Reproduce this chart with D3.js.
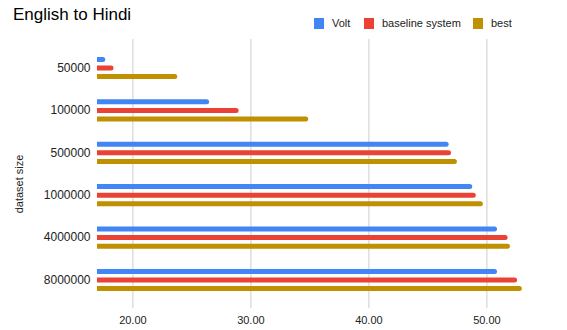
<!DOCTYPE html>
<html>
<head>
<meta charset="utf-8">
<script src="https://cdn.jsdelivr.net/npm/d3@7"></script>
<style>
  body { margin: 0; background: #fff; }
  svg { display: block; font-family: "Liberation Sans", Arial, sans-serif; }
</style>
</head>
<body>
<svg id="chart" width="567" height="330"></svg>
<script>
// Dataset sizes and scores per system
const categories = ["50000", "100000", "500000", "1000000", "4000000", "8000000"];
const seriesNames = ["Volt", "baseline system", "best"];
const voltValues = [17.7, 26.5, 46.8, 48.8, 50.9, 50.9];
const baselineValues = [18.4, 29.0, 47.0, 49.1, 51.8, 52.6];
const bestValues = [23.8, 34.9, 47.5, 49.7, 52.0, 53.0];
const xTicks = [20, 30, 40, 50];
const colors = ["#4285F4", "#EA4335", "#BF9000"];

const seriesValues = [voltValues, baselineValues, bestValues];
const fontFamily = "'Liberation Sans', Arial, sans-serif";

const svg = d3.select("#chart");

const x = d3.scaleLinear().domain([17, 55]).range([97, 545.4]);
const y = d3.scaleBand().domain(categories).range([46.8, 301.2]).padding(0);
const inner = d3.scaleBand().domain(seriesNames).range([-12.9, 12.9]).padding(0);
const barH = 5;

// Vertical gridlines
svg.append("g")
  .selectAll("line")
  .data(xTicks)
  .join("line")
  .attr("x1", d => x(d) + 0.5)
  .attr("x2", d => x(d) + 0.5)
  .attr("y1", 39)
  .attr("y2", 308)
  .attr("stroke", "#cccccc")
  .attr("stroke-width", 1);

// X-axis labels
const xAxis = d3.axisBottom(x).tickValues(xTicks).tickFormat(d3.format(".2f")).tickSize(0).tickPadding(0);
const gx = svg.append("g").attr("transform", "translate(0,316)").call(xAxis);
gx.select(".domain").remove();
gx.selectAll("text")
  .attr("font-size", 11)
  .attr("fill", "#222")
  .attr("font-family", fontFamily)
  .attr("dy", "0.71em");

// Y-axis labels
const yAxis = d3.axisLeft(y).tickSize(0).tickPadding(0);
const gy = svg.append("g").attr("transform", "translate(90.5,0)").call(yAxis);
gy.select(".domain").remove();
gy.selectAll("text")
  .attr("font-size", 12)
  .attr("fill", "#222")
  .attr("font-family", fontFamily);

// Bars: square left edge, softly rounded right end
function barPath(x0, x1, yc) {
  const r = 2.5;
  const t = yc - barH / 2, b = yc + barH / 2;
  return `M${x0},${t}H${x1 - r}A${r},${r} 0 0 1 ${x1},${yc}A${r},${r} 0 0 1 ${x1 - r},${b}H${x0}Z`;
}

const groups = svg.append("g")
  .selectAll("g")
  .data(categories)
  .join("g");

groups.selectAll("path")
  .data((c, ci) => seriesNames.map((s, si) => ({ s, si, c, v: seriesValues[si][ci] })))
  .join("path")
  .attr("d", d => {
    const yc = y(d.c) + y.bandwidth() / 2 + inner(d.s) + inner.bandwidth() / 2;
    return barPath(x(17), x(d.v), yc);
  })
  .attr("fill", d => colors[d.si]);

// Y-axis title
svg.append("text")
  .attr("transform", "translate(23,184) rotate(-90)")
  .attr("text-anchor", "middle")
  .attr("font-size", 11)
  .attr("fill", "#222")
  .attr("font-family", fontFamily)
  .text("dataset size");

// Title
svg.append("text")
  .attr("x", 13)
  .attr("y", 20)
  .attr("font-size", 17)
  .attr("fill", "#000")
  .attr("font-family", fontFamily)
  .text("English to Hindi");

// Legend
const legendX = [314, 364, 473];
const legend = svg.append("g")
  .selectAll("g")
  .data(seriesNames)
  .join("g")
  .attr("transform", (d, i) => `translate(${legendX[i]},18)`);
legend.append("rect")
  .attr("width", 10)
  .attr("height", 11)
  .attr("fill", (d, i) => colors[i]);
legend.append("text")
  .attr("x", 18)
  .attr("y", 5.5)
  .attr("dy", "0.35em")
  .attr("font-size", 11)
  .attr("fill", "#222")
  .attr("font-family", fontFamily)
  .text(d => d);
</script>
</body>
</html>
